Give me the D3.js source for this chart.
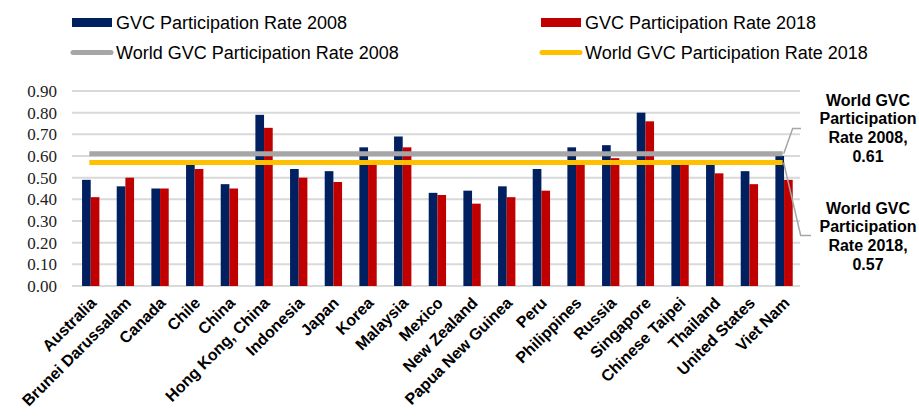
<!DOCTYPE html>
<html>
<head>
<meta charset="utf-8">
<script src="https://cdn.jsdelivr.net/npm/d3@7"></script>
<style>
  body { margin: 0; background: #fff; }
  svg { display: block; }
</style>
</head>
<body>
<div id="chart"></div>
<script>
// DATA
const economies = ["Australia", "Brunei Darussalam", "Canada", "Chile", "China", "Hong Kong, China",
  "Indonesia", "Japan", "Korea", "Malaysia", "Mexico", "New Zealand", "Papua New Guinea", "Peru",
  "Philippines", "Russia", "Singapore", "Chinese Taipei", "Thailand", "United States", "Viet Nam"];
const rate2008 = [0.49, 0.46, 0.45, 0.58, 0.47, 0.79, 0.54, 0.53, 0.64, 0.69, 0.43,
  0.44, 0.46, 0.54, 0.64, 0.65, 0.80, 0.56, 0.56, 0.53, 0.60];
const rate2018 = [0.41, 0.50, 0.45, 0.54, 0.45, 0.73, 0.50, 0.48, 0.56, 0.64, 0.42,
  0.38, 0.41, 0.44, 0.56, 0.59, 0.76, 0.56, 0.52, 0.47, 0.49];
const worldRate2008 = 0.61;
const worldRate2018 = 0.57;
const yTicks = [0, 0.1, 0.2, 0.3, 0.4, 0.5, 0.6, 0.7, 0.8, 0.9];

const width = 919;
const height = 417;
const margin = { top: 91, right: 119, bottom: 131, left: 72 };

const colors = { b2008: "#002060", b2018: "#C00000", w2008: "#A6A6A6", w2018: "#FFC000" };
const sans = "'Liberation Sans', Arial, sans-serif";

const svg = d3.select("#chart")
  .append("svg")
  .attr("width", width)
  .attr("height", height);

const x = d3.scaleBand()
  .domain(economies)
  .range([margin.left, width - margin.right]);

const y = d3.scaleLinear()
  .domain([0, 0.9])
  .range([height - margin.bottom, margin.top]);

const bw = x.bandwidth();

// GRIDLINES
svg.append("g")
  .selectAll("line")
  .data(yTicks)
  .join("line")
  .attr("x1", margin.left)
  .attr("x2", width - margin.right)
  .attr("y1", d => y(d))
  .attr("y2", d => y(d))
  .attr("stroke", "#D9D9D9")
  .attr("stroke-width", 2);

// Y AXIS LABELS
svg.append("g")
  .selectAll("text")
  .data(yTicks)
  .join("text")
  .attr("x", 57)
  .attr("y", d => y(d))
  .attr("dy", "0.35em")
  .attr("text-anchor", "end")
  .style("font-family", "'Liberation Serif', 'Times New Roman', serif")
  .style("font-size", "17px")
  .style("fill", "#222")
  .text(d => d.toFixed(2));

// BARS
const bars = svg.append("g");
bars.selectAll(".b2008")
  .data(economies)
  .join("rect")
  .attr("class", "b2008")
  .attr("x", d => x(d) + bw * 0.29)
  .attr("width", bw * 0.25)
  .attr("y", (d, i) => y(rate2008[i]))
  .attr("height", (d, i) => y(0) - y(rate2008[i]))
  .attr("fill", colors.b2008);

bars.selectAll(".b2018")
  .data(economies)
  .join("rect")
  .attr("class", "b2018")
  .attr("x", d => x(d) + bw * 0.54)
  .attr("width", bw * 0.25)
  .attr("y", (d, i) => y(rate2018[i]))
  .attr("height", (d, i) => y(0) - y(rate2018[i]))
  .attr("fill", colors.b2018);

// WORLD LINES
const firstX = x(economies[0]) + bw / 2;
const lastX = x(economies[economies.length - 1]) + bw / 2;

[[worldRate2008, colors.w2008], [worldRate2018, colors.w2018]].forEach(([v, c]) => {
  svg.append("line")
    .attr("x1", firstX)
    .attr("x2", lastX)
    .attr("y1", y(v))
    .attr("y2", y(v))
    .attr("stroke", c)
    .attr("stroke-width", 5);
});

// X LABELS
svg.append("g")
  .selectAll("text")
  .data(economies)
  .join("text")
  .attr("transform", d => `translate(${x(d) + bw / 2 + 4}, 300) rotate(-45)`)
  .attr("text-anchor", "end")
  .attr("dy", "0.35em")
  .style("font-family", sans)
  .style("font-weight", "bold")
  .style("font-size", "16px")
  .style("fill", "#000")
  .text(d => d);

// DATA LABEL CALLOUTS
const callouts = [
  { v: worldRate2008, lines: ["World GVC", "Participation", "Rate 2008,", "0.61"], top: 100, elbowDx: 9, elbowY: 128.5, endX: 801 },
  { v: worldRate2018, lines: ["World GVC", "Participation", "Rate 2018,", "0.57"], top: 208, elbowDx: 17, elbowY: 235.5, endX: 811 }
];

callouts.forEach(c => {
  svg.append("polyline")
    .attr("points", [[lastX + 1, y(c.v)], [lastX + c.elbowDx + 1, c.elbowY], [c.endX, c.elbowY]].map(p => p.join(",")).join(" "))
    .attr("fill", "none")
    .attr("stroke", "#A6A6A6")
    .attr("stroke-width", 1.5);

  svg.append("g")
    .selectAll("text")
    .data(c.lines)
    .join("text")
    .attr("x", 868)
    .attr("y", (d, i) => c.top + i * 18.8)
    .attr("dy", "0.35em")
    .attr("text-anchor", "middle")
    .style("font-family", sans)
    .style("font-weight", "bold")
    .style("font-size", "16px")
    .style("fill", "#000")
    .text(d => d);
});

// LEGEND
const legendItems = [
  { label: "GVC Participation Rate 2008", color: colors.b2008, type: "rect", x: 72, y: 22.5 },
  { label: "GVC Participation Rate 2018", color: colors.b2018, type: "rect", x: 541, y: 22.5 },
  { label: "World GVC Participation Rate 2008", color: colors.w2008, type: "line", x: 72, y: 52.5 },
  { label: "World GVC Participation Rate 2018", color: colors.w2018, type: "line", x: 541, y: 52.5 }
];

const legend = svg.append("g");
legendItems.forEach(d => {
  if (d.type === "rect") {
    legend.append("rect")
      .attr("x", d.x)
      .attr("y", d.y - 4.5)
      .attr("width", 40)
      .attr("height", 9)
      .attr("fill", d.color);
  } else {
    legend.append("line")
      .attr("x1", d.x + 1)
      .attr("x2", d.x + 39)
      .attr("y1", d.y)
      .attr("y2", d.y)
      .attr("stroke", d.color)
      .attr("stroke-width", 5)
      .attr("stroke-linecap", "round");
  }
  legend.append("text")
    .attr("x", d.x + 44)
    .attr("y", d.y)
    .attr("dy", "0.35em")
    .style("font-family", sans)
    .style("font-size", "18px")
    .style("fill", "#000")
    .text(d.label);
});
</script>
</body>
</html>
